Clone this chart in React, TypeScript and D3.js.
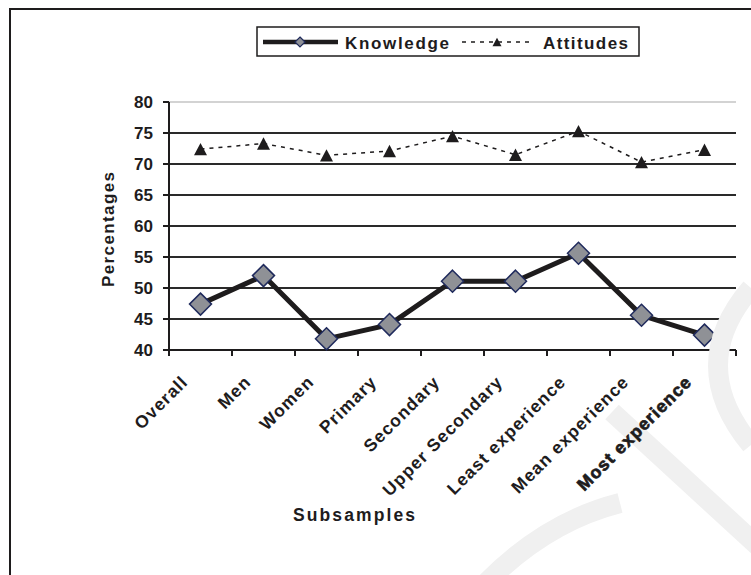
import React from "react";
import * as d3 from "d3";

// Subsample categories and the two series (percentages)
const categories = [
  "Overall",
  "Men",
  "Women",
  "Primary",
  "Secondary",
  "Upper Secondary",
  "Least experience",
  "Mean experience",
  "Most experience",
];
const knowledge = [47.4, 52.0, 41.8, 44.1, 51.1, 51.1, 55.6, 45.6, 42.4];
const attitudes = [72.4, 73.3, 71.4, 72.1, 74.5, 71.5, 75.3, 70.3, 72.3];
const yTicks = [40, 45, 50, 55, 60, 65, 70, 75, 80];

const W = 751;
const H = 575;
const plot = { left: 169, right: 736, top: 102, bottom: 350 };
const FONT = "'Liberation Sans', Arial, Helvetica, sans-serif";
const INK = "#1e1c1d";

// Square rotated 45 degrees, size = half-diagonal squared
const diamondType = {
  draw(ctx: any, size: number) {
    const r = Math.sqrt(size);
    ctx.moveTo(0, -r);
    ctx.lineTo(r, 0);
    ctx.lineTo(0, r);
    ctx.lineTo(-r, 0);
    ctx.closePath();
  },
};
// Triangle centred on its bounding box, size = half-width squared
const triangleType = {
  draw(ctx: any, size: number) {
    const r = Math.sqrt(size);
    ctx.moveTo(0, -r * 0.95);
    ctx.lineTo(r, r * 0.95);
    ctx.lineTo(-r, r * 0.95);
    ctx.closePath();
  },
};

export default function App() {
  const x = d3
    .scaleBand<string>()
    .domain(categories)
    .range([plot.left, plot.right])
    .padding(0);
  const y = d3.scaleLinear().domain([40, 80]).range([plot.bottom, plot.top]);
  const cx = (c: string) => (x(c) as number) + x.bandwidth() / 2;

  const line = d3
    .line<number>()
    .x((_, i) => cx(categories[i]))
    .y((v) => y(v));

  const diamond = d3.symbol().type(diamondType as any).size(11 * 11)();
  const diamondSmall = d3.symbol().type(diamondType as any).size(5 * 5)();
  const triangle = d3.symbol().type(triangleType as any).size(6.5 * 6.5)();
  const triangleSmall = d3.symbol().type(triangleType as any).size(4.5 * 4.5)();

  const bandEdges = categories.map((c) => x(c) as number).concat([plot.right]);

  return (
    <svg
      width={W}
      height={H}
      viewBox={`0 0 ${W} ${H}`}
      style={{ position: "absolute", left: 0, top: 0, background: "#fff" }}
      fontFamily={FONT}
    >
      <rect x={0} y={0} width={W} height={H} fill="#fff" />
      {/* outer frame */}
      <path d={`M10,${H} L10,9 L${W},9`} fill="none" stroke={INK} strokeWidth={2} />

      {/* legend */}
      <g>
        <rect x={257} y={27} width={382} height={29} fill="#fff" stroke={INK} strokeWidth={1.5} />
        <line x1={263} x2={338} y1={42} y2={42} stroke={INK} strokeWidth={4.5} />
        <path d={diamondSmall as string} transform="translate(300,42)" fill="#8f9196" stroke="#1f2a5c" strokeWidth={1.2} />
        <text x={345} y={48.5} fontSize={17} fontWeight="bold" fill={INK} textLength={104} lengthAdjust="spacing">
          Knowledge
        </text>
        <line x1={462} x2={532} y1={42} y2={42} stroke={INK} strokeWidth={1.5} strokeDasharray="4 5" />
        <path d={triangleSmall as string} transform="translate(497,42)" fill={INK} />
        <text x={543} y={48.5} fontSize={17} fontWeight="bold" fill={INK} textLength={85} lengthAdjust="spacing">
          Attitudes
        </text>
      </g>

      {/* horizontal gridlines */}
      {yTicks.map((t) => (
        <line
          key={"g" + t}
          x1={plot.left}
          x2={plot.right}
          y1={y(t)}
          y2={y(t)}
          stroke={t === 80 ? "#c4c4c4" : "#2a2a2a"}
          strokeWidth={t === 80 ? 1.5 : 2}
        />
      ))}

      {/* y axis */}
      <line x1={plot.left} x2={plot.left} y1={plot.top} y2={plot.bottom + 4} stroke={INK} strokeWidth={2} />
      {yTicks.map((t) => (
        <g key={"yt" + t}>
          <line x1={plot.left - 6} x2={plot.left} y1={y(t)} y2={y(t)} stroke={INK} strokeWidth={2} />
          <text
            x={153}
            y={y(t)}
            dy="0.36em"
            textAnchor="end"
            fontSize={17}
            fontWeight="bold"
            fill={INK}
          >
            {t}
          </text>
        </g>
      ))}

      {/* x axis */}
      <line x1={plot.left} x2={plot.right} y1={plot.bottom} y2={plot.bottom} stroke={INK} strokeWidth={2} />
      {bandEdges.map((e, i) => (
        <line key={"xt" + i} x1={e} x2={e} y1={plot.bottom} y2={plot.bottom + 6} stroke={INK} strokeWidth={2} />
      ))}

      {/* Attitudes series */}
      <path d={line(attitudes) as string} fill="none" stroke={INK} strokeWidth={1.5} strokeDasharray="4 5" />
      {attitudes.map((v, i) => (
        <path key={"a" + i} d={triangle as string} transform={`translate(${cx(categories[i])},${y(v)})`} fill={INK} />
      ))}

      {/* Knowledge series */}
      <path d={line(knowledge) as string} fill="none" stroke={INK} strokeWidth={5} strokeLinejoin="miter" />
      {knowledge.map((v, i) => (
        <path
          key={"k" + i}
          d={diamond as string}
          transform={`translate(${cx(categories[i])},${y(v)})`}
          fill="#8f9196"
          stroke="#1f2a5c"
          strokeWidth={1.5}
        />
      ))}

      {/* faint watermark strokes */}
      <g fill="none" stroke="#f0f0f0" strokeWidth={20} strokeLinecap="butt">
        <path d="M751,288 Q685,365 751,445" />
        <path d="M612,412 L760,548" />
        <path d="M484,585 Q545,522 620,503" />
      </g>

      {/* category labels */}
      {categories.map((c) => {
        const px = cx(c) - 11.5;
        const py = 383;
        const heavy = c === "Most experience";
        return (
          <text
            key={"xl" + c}
            x={px}
            y={py}
            transform={`rotate(-45 ${px} ${py})`}
            textAnchor="end"
            fontSize={17.5}
            fontWeight="bold"
            letterSpacing={1.1}
            fill={INK}
            stroke={heavy ? INK : "none"}
            strokeWidth={heavy ? 0.7 : 0}
          >
            {c}
          </text>
        );
      })}

      {/* axis titles */}
      <text
        x={0}
        y={0}
        transform="translate(113.5,229.5) rotate(-90)"
        textAnchor="middle"
        fontSize={17}
        fontWeight="bold"
        fill={INK}
        textLength={115}
        lengthAdjust="spacing"
      >
        Percentages
      </text>
      <text
        x={293}
        y={521}
        fontSize={17.5}
        fontWeight="bold"
        fill={INK}
        textLength={122}
        lengthAdjust="spacing"
      >
        Subsamples
      </text>
    </svg>
  );
}
